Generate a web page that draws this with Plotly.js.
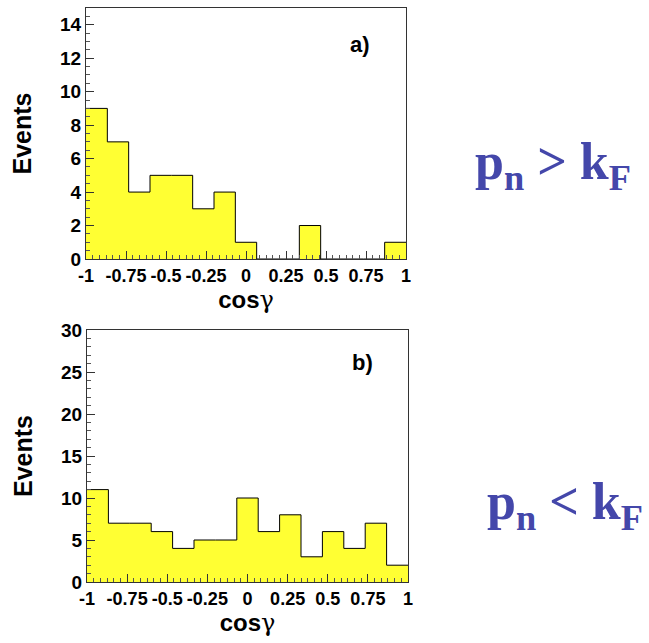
<!DOCTYPE html>
<html>
<head>
<meta charset="utf-8">
<script src="https://cdn.plot.ly/plotly-3.0.1.min.js"></script>
<style>html,body{margin:0;padding:0;background:#fff;}#chart{width:649px;height:643px;}</style>
</head>
<body>
<div id="chart"></div>
<script>
// Histogram: 15 bins on cos(gamma) from -1 to 1
const binLow = -1;
const binHigh = 1;
const countsA = [9, 7, 4, 5, 5, 3, 4, 1, 0, 0, 2, 0, 0, 0, 1];      // p_n > k_F
const countsB = [11, 7, 7, 6, 4, 5, 5, 10, 6, 8, 3, 6, 4, 7, 2];   // p_n < k_F
const xTickVals = [-1, -0.75, -0.5, -0.25, 0, 0.25, 0.5, 0.75, 1];
const xTickText = ['-1', '-0.75', '-0.5', '-0.25', '0', '0.25', '0.5', '0.75', '1'];
const yTicksA = [0, 2, 4, 6, 8, 10, 12, 14];
const yTicksB = [0, 5, 10, 15, 20, 25, 30];
const panelLabels = ['a)', 'b)'];
const sideLabels = ['<b>p<sub>n</sub> &gt; k<sub>F</sub></b>', '<b>p<sub>n</sub> &lt; k<sub>F</sub></b>'];

function edges(counts) {
  const w = (binHigh - binLow) / counts.length;
  return counts.concat([counts[counts.length - 1]]).map((_, i) => binLow + i * w);
}
function stepY(counts) { return counts.concat([counts[counts.length - 1]]); }

const W = 649, H = 643;
const fill = '#ffff33';
const font = 'Liberation Sans, Arial, sans-serif';
const purple = '#4447aa';

const traces = [
  {x: edges(countsA), y: stepY(countsA), xaxis: 'x', yaxis: 'y', type: 'scatter', mode: 'lines',
   line: {shape: 'hv', color: '#000', width: 1}, fill: 'tozeroy', fillcolor: fill, hoverinfo: 'skip'},
  {x: edges(countsB), y: stepY(countsB), xaxis: 'x2', yaxis: 'y2', type: 'scatter', mode: 'lines',
   line: {shape: 'hv', color: '#000', width: 1}, fill: 'tozeroy', fillcolor: fill, hoverinfo: 'skip'}
];

function xAxis(dom, anchor) {
  return {
    domain: dom, anchor: anchor, range: [-1, 1], showgrid: false, zeroline: false,
    showline: true, linecolor: '#333', linewidth: 1, mirror: true,
    tickmode: 'array', tickvals: xTickVals, ticktext: xTickText, tickangle: 0,
    ticks: 'inside', ticklen: 8, tickcolor: '#333', tickwidth: 1,
    minor: {dtick: 0.25 / 6, ticks: 'inside', ticklen: 4, tickcolor: '#555', tickwidth: 1, tick0: -1},
    tickfont: {family: font, size: 18, color: '#000', weight: 'bold'},
    title: {text: '<b>cos</b><span style="font-family:DejaVu Serif;font-weight:normal">\u03b3</span>',
            font: {family: font, size: 24, color: '#000'}, standoff: 6},
    fixedrange: true
  };
}
function yAxis(dom, anchor, range, vals, minorStep) {
  return {
    domain: dom, anchor: anchor, range: range, showgrid: false, zeroline: false,
    showline: true, linecolor: '#333', linewidth: 1, mirror: true,
    tickmode: 'array', tickvals: vals, ticktext: vals.map(String),
    ticks: 'inside', ticklen: 8, tickcolor: '#333', tickwidth: 1,
    minor: {dtick: minorStep, tick0: 0, ticks: 'inside', ticklen: 4, tickcolor: '#555', tickwidth: 1},
    tickfont: {family: font, size: 19, color: '#000', weight: 'bold'},
    title: {text: '<b>Events</b>', font: {family: font, size: 25, color: '#000'}, standoff: 21},
    fixedrange: true
  };
}

const layout = {
  width: W, height: H, autosize: false,
  margin: {l: 0, r: 0, t: 0, b: 0},
  paper_bgcolor: '#fff', plot_bgcolor: '#fff', showlegend: false,
  xaxis: xAxis([86 / W, 406 / W], 'y'),
  yaxis: yAxis([1 - 259 / H, 1 - 8 / H], 'x', [0, 15], yTicksA, 0.5),
  xaxis2: xAxis([87 / W, 408 / W], 'y2'),
  yaxis2: yAxis([1 - 582 / H, 1 - 330 / H], 'x2', [0, 30], yTicksB, 1),
  annotations: [
    {text: '<b>' + panelLabels[0] + '</b>', xref: 'paper', yref: 'paper', x: 360 / W, y: 1 - 45 / H,
     xanchor: 'center', yanchor: 'middle',
     showarrow: false, font: {family: font, size: 22, color: '#000'}},
    {text: '<b>' + panelLabels[1] + '</b>', xref: 'paper', yref: 'paper', x: 363 / W, y: 1 - 362 / H,
     xanchor: 'center', yanchor: 'middle',
     showarrow: false, font: {family: font, size: 22, color: '#000'}},
    {text: sideLabels[0], xref: 'paper', yref: 'paper', x: 553 / W, y: 1 - 166 / H,
     xanchor: 'center', yanchor: 'middle',
     showarrow: false, font: {family: 'Liberation Serif, Times New Roman, serif', size: 52, color: purple}},
    {text: sideLabels[1], xref: 'paper', yref: 'paper', x: 565 / W, y: 1 - 505 / H,
     xanchor: 'center', yanchor: 'middle',
     showarrow: false, font: {family: 'Liberation Serif, Times New Roman, serif', size: 52, color: purple}}
  ]
};

Plotly.newPlot('chart', traces, layout, {displayModeBar: false, staticPlot: true});
</script>
</body>
</html>
